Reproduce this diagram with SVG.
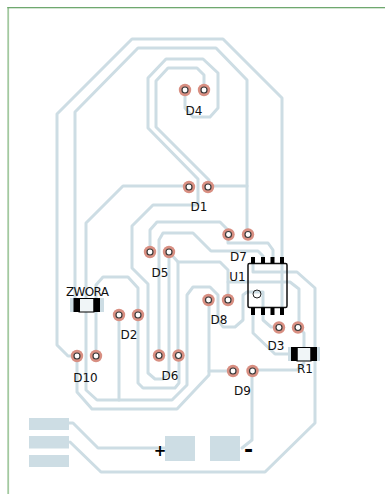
<svg xmlns="http://www.w3.org/2000/svg" width="385" height="494" viewBox="0 0 385 494">
<style>
.t{fill:none;stroke:#cddde4;stroke-width:3;stroke-linejoin:round;stroke-linecap:round}
.p{fill:#cddde4}
.r{fill:#d88f82}
.h{fill:#fff;stroke:#3a3a3a;stroke-width:1.2}
.l{font-family:"DejaVu Sans",sans-serif;font-size:12px;fill:#111}
.k{fill:#000}
.b{fill:#fff}
</style>
<rect width="385" height="494" fill="#fff"/>
<g id="board">
<rect x="7.300" y="7" width="1.800" height="487" fill="#a3c9a0"/>
<rect x="7.300" y="7" width="377.700" height="1.300" fill="#6fa86f"/>
</g>
<g id="connectors" class="t">
<path d="M77 356H68L57 345V114L132 39H223L282 98V258"/>
<path d="M282 263V308"/>
<path d="M75 298V112L138 48H216L247 80V234"/>
<path d="M208 186H247"/>
<path d="M204 89V75L197 68H168L156 81V127L209 180V186"/>
<path d="M185 89V108L193 117H210L218 108V73L203 59H166L148 78V128L198 179V205H153L132 226V268L148 284V373L155 379H163L169 373V252"/>
<path d="M150 252V230L157 222H220L228 230V243H268L273 250V258"/>
<path d="M159 355V240L163 233H193L211 251H258L263 256V258"/>
<path d="M169 252L178 262V355"/>
<path d="M178 262H220L228 270V300"/>
<path d="M228 282H290L299 289V327"/>
<path d="M189 186H123L86 223V390L97 400H172L187 385V295L193 287H210L218 295V320L223 327H235L243 320V295L247 292H263V320L271 327H279"/>
<path d="M119 315V400"/>
<path d="M138 315V288L128 277H103L96 285V356"/>
<path d="M138 315V383L143 388H175L179 383V355"/>
<path d="M77 356V392L92 409H177L209 375V300"/>
<path d="M209 371H233"/>
<path d="M252 370H297L304 363"/>
<path d="M298 327L304 333V350"/>
<path d="M253 315V333L275 354H292"/>
<path d="M252 370V440L242 448"/>
<path d="M253 258V272H297L315 288V423L265 472H101L70 442"/>
<path d="M69 423H73L98 448H165"/>
</g>
<g id="J1">
<rect class="p" x="29" y="418" width="40" height="12"/>
<rect class="p" x="29" y="436" width="40" height="12.500"/>
<rect class="p" x="29" y="455" width="40" height="12"/>
</g>
<g id="plus">
<rect class="p" x="165" y="436" width="30" height="25"/>
<text x="160" y="456" text-anchor="middle" font-family="DejaVu Sans, sans-serif" font-size="15" font-weight="bold" fill="#000">+</text>
</g>
<g id="minus">
<rect class="p" x="210" y="436" width="30" height="25"/>
<text x="248.500" y="457" text-anchor="middle" font-family="DejaVu Sans, sans-serif" font-size="22" font-weight="bold" fill="#000">-</text>
</g>
<g id="D4"><circle class="r" cx="185" cy="90" r="6.200"/><circle class="h" cx="185" cy="90" r="3"/><circle class="r" cx="204" cy="90" r="6.200"/><circle class="h" cx="204" cy="90" r="3"/><text class="l" x="194" y="115" text-anchor="middle">D4</text></g>
<g id="D1"><circle class="r" cx="189" cy="187" r="6.200"/><circle class="h" cx="189" cy="187" r="3"/><circle class="r" cx="208" cy="187" r="6.200"/><circle class="h" cx="208" cy="187" r="3"/><text class="l" x="199" y="211" text-anchor="middle">D1</text></g>
<g id="D7"><circle class="r" cx="228.500" cy="234.500" r="6.200"/><circle class="h" cx="228.500" cy="234.500" r="3"/><circle class="r" cx="248" cy="234.500" r="6.200"/><circle class="h" cx="248" cy="234.500" r="3"/><text class="l" x="238.500" y="261" text-anchor="middle">D7</text></g>
<g id="D5"><circle class="r" cx="150" cy="252" r="6.200"/><circle class="h" cx="150" cy="252" r="3"/><circle class="r" cx="169" cy="252" r="6.200"/><circle class="h" cx="169" cy="252" r="3"/><text class="l" x="160" y="277" text-anchor="middle">D5</text></g>
<g id="D2"><circle class="r" cx="119" cy="315" r="6.200"/><circle class="h" cx="119" cy="315" r="3"/><circle class="r" cx="138" cy="315" r="6.200"/><circle class="h" cx="138" cy="315" r="3"/><text class="l" x="129" y="339" text-anchor="middle">D2</text></g>
<g id="D10"><circle class="r" cx="77" cy="356" r="6.200"/><circle class="h" cx="77" cy="356" r="3"/><circle class="r" cx="96" cy="356" r="6.200"/><circle class="h" cx="96" cy="356" r="3"/><text class="l" x="85.500" y="382" text-anchor="middle">D10</text></g>
<g id="D6"><circle class="r" cx="159" cy="355.500" r="6.200"/><circle class="h" cx="159" cy="355.500" r="3"/><circle class="r" cx="178.500" cy="355.500" r="6.200"/><circle class="h" cx="178.500" cy="355.500" r="3"/><text class="l" x="170" y="380" text-anchor="middle">D6</text></g>
<g id="D8"><circle class="r" cx="208.500" cy="300" r="6.200"/><circle class="h" cx="208.500" cy="300" r="3"/><circle class="r" cx="228" cy="300" r="6.200"/><circle class="h" cx="228" cy="300" r="3"/><text class="l" x="219" y="324" text-anchor="middle">D8</text></g>
<g id="D3"><circle class="r" cx="279" cy="327.500" r="6.200"/><circle class="h" cx="279" cy="327.500" r="3"/><circle class="r" cx="298" cy="327.500" r="6.200"/><circle class="h" cx="298" cy="327.500" r="3"/><text class="l" x="276" y="350" text-anchor="middle">D3</text></g>
<g id="D9"><circle class="r" cx="233" cy="371" r="6.200"/><circle class="h" cx="233" cy="371" r="3"/><circle class="r" cx="252.500" cy="371" r="6.200"/><circle class="h" cx="252.500" cy="371" r="3"/><text class="l" x="242.500" y="395" text-anchor="middle">D9</text></g>
<g id="ZWORA">
<rect class="p" x="70" y="298" width="34" height="14"/>
<rect class="b" x="79" y="299" width="15" height="13" opacity=".7"/>
<rect x="79" y="298.500" width="15" height="13.500" fill="none" stroke="#000" stroke-width="1"/>
<rect class="k" x="73.500" y="298" width="6.500" height="14"/>
<rect class="k" x="93.500" y="298" width="6.500" height="14"/>
<text class="l" x="87.500" y="296" text-anchor="middle" textLength="43" font-size="12">ZWORA</text>
</g>
<g id="R1">
<rect class="p" x="288" y="347" width="32" height="14"/>
<rect class="b" x="297" y="347.500" width="14" height="13" opacity=".7"/>
<rect x="297" y="347.500" width="14" height="13.500" fill="none" stroke="#000" stroke-width="1"/>
<rect class="k" x="291" y="347" width="6.500" height="14"/>
<rect class="k" x="310.500" y="347" width="6.500" height="14"/>
<text class="l" x="305" y="373" text-anchor="middle">R1</text>
</g>
<g id="U1">
<rect x="248" y="263.500" width="39" height="44" rx="1.500" fill="none" stroke="#111" stroke-width="1.500"/>
<circle cx="257" cy="294" r="4" fill="none" stroke="#222" stroke-width="1"/>
<rect class="k" x="251" y="257" width="4" height="6.500"/>
<rect class="k" x="261" y="257" width="4" height="6.500"/>
<rect class="k" x="270.500" y="257" width="4" height="6.500"/>
<rect class="k" x="280" y="257" width="4" height="6.500"/>
<rect class="k" x="251" y="307.500" width="4" height="7.500"/>
<rect class="k" x="261" y="307.500" width="4" height="7.500"/>
<rect class="k" x="270.500" y="307.500" width="4" height="7.500"/>
<rect class="k" x="280" y="307.500" width="4" height="7.500"/>
<text class="l" x="237.500" y="281" text-anchor="middle">U1</text>
</g>
</svg>
